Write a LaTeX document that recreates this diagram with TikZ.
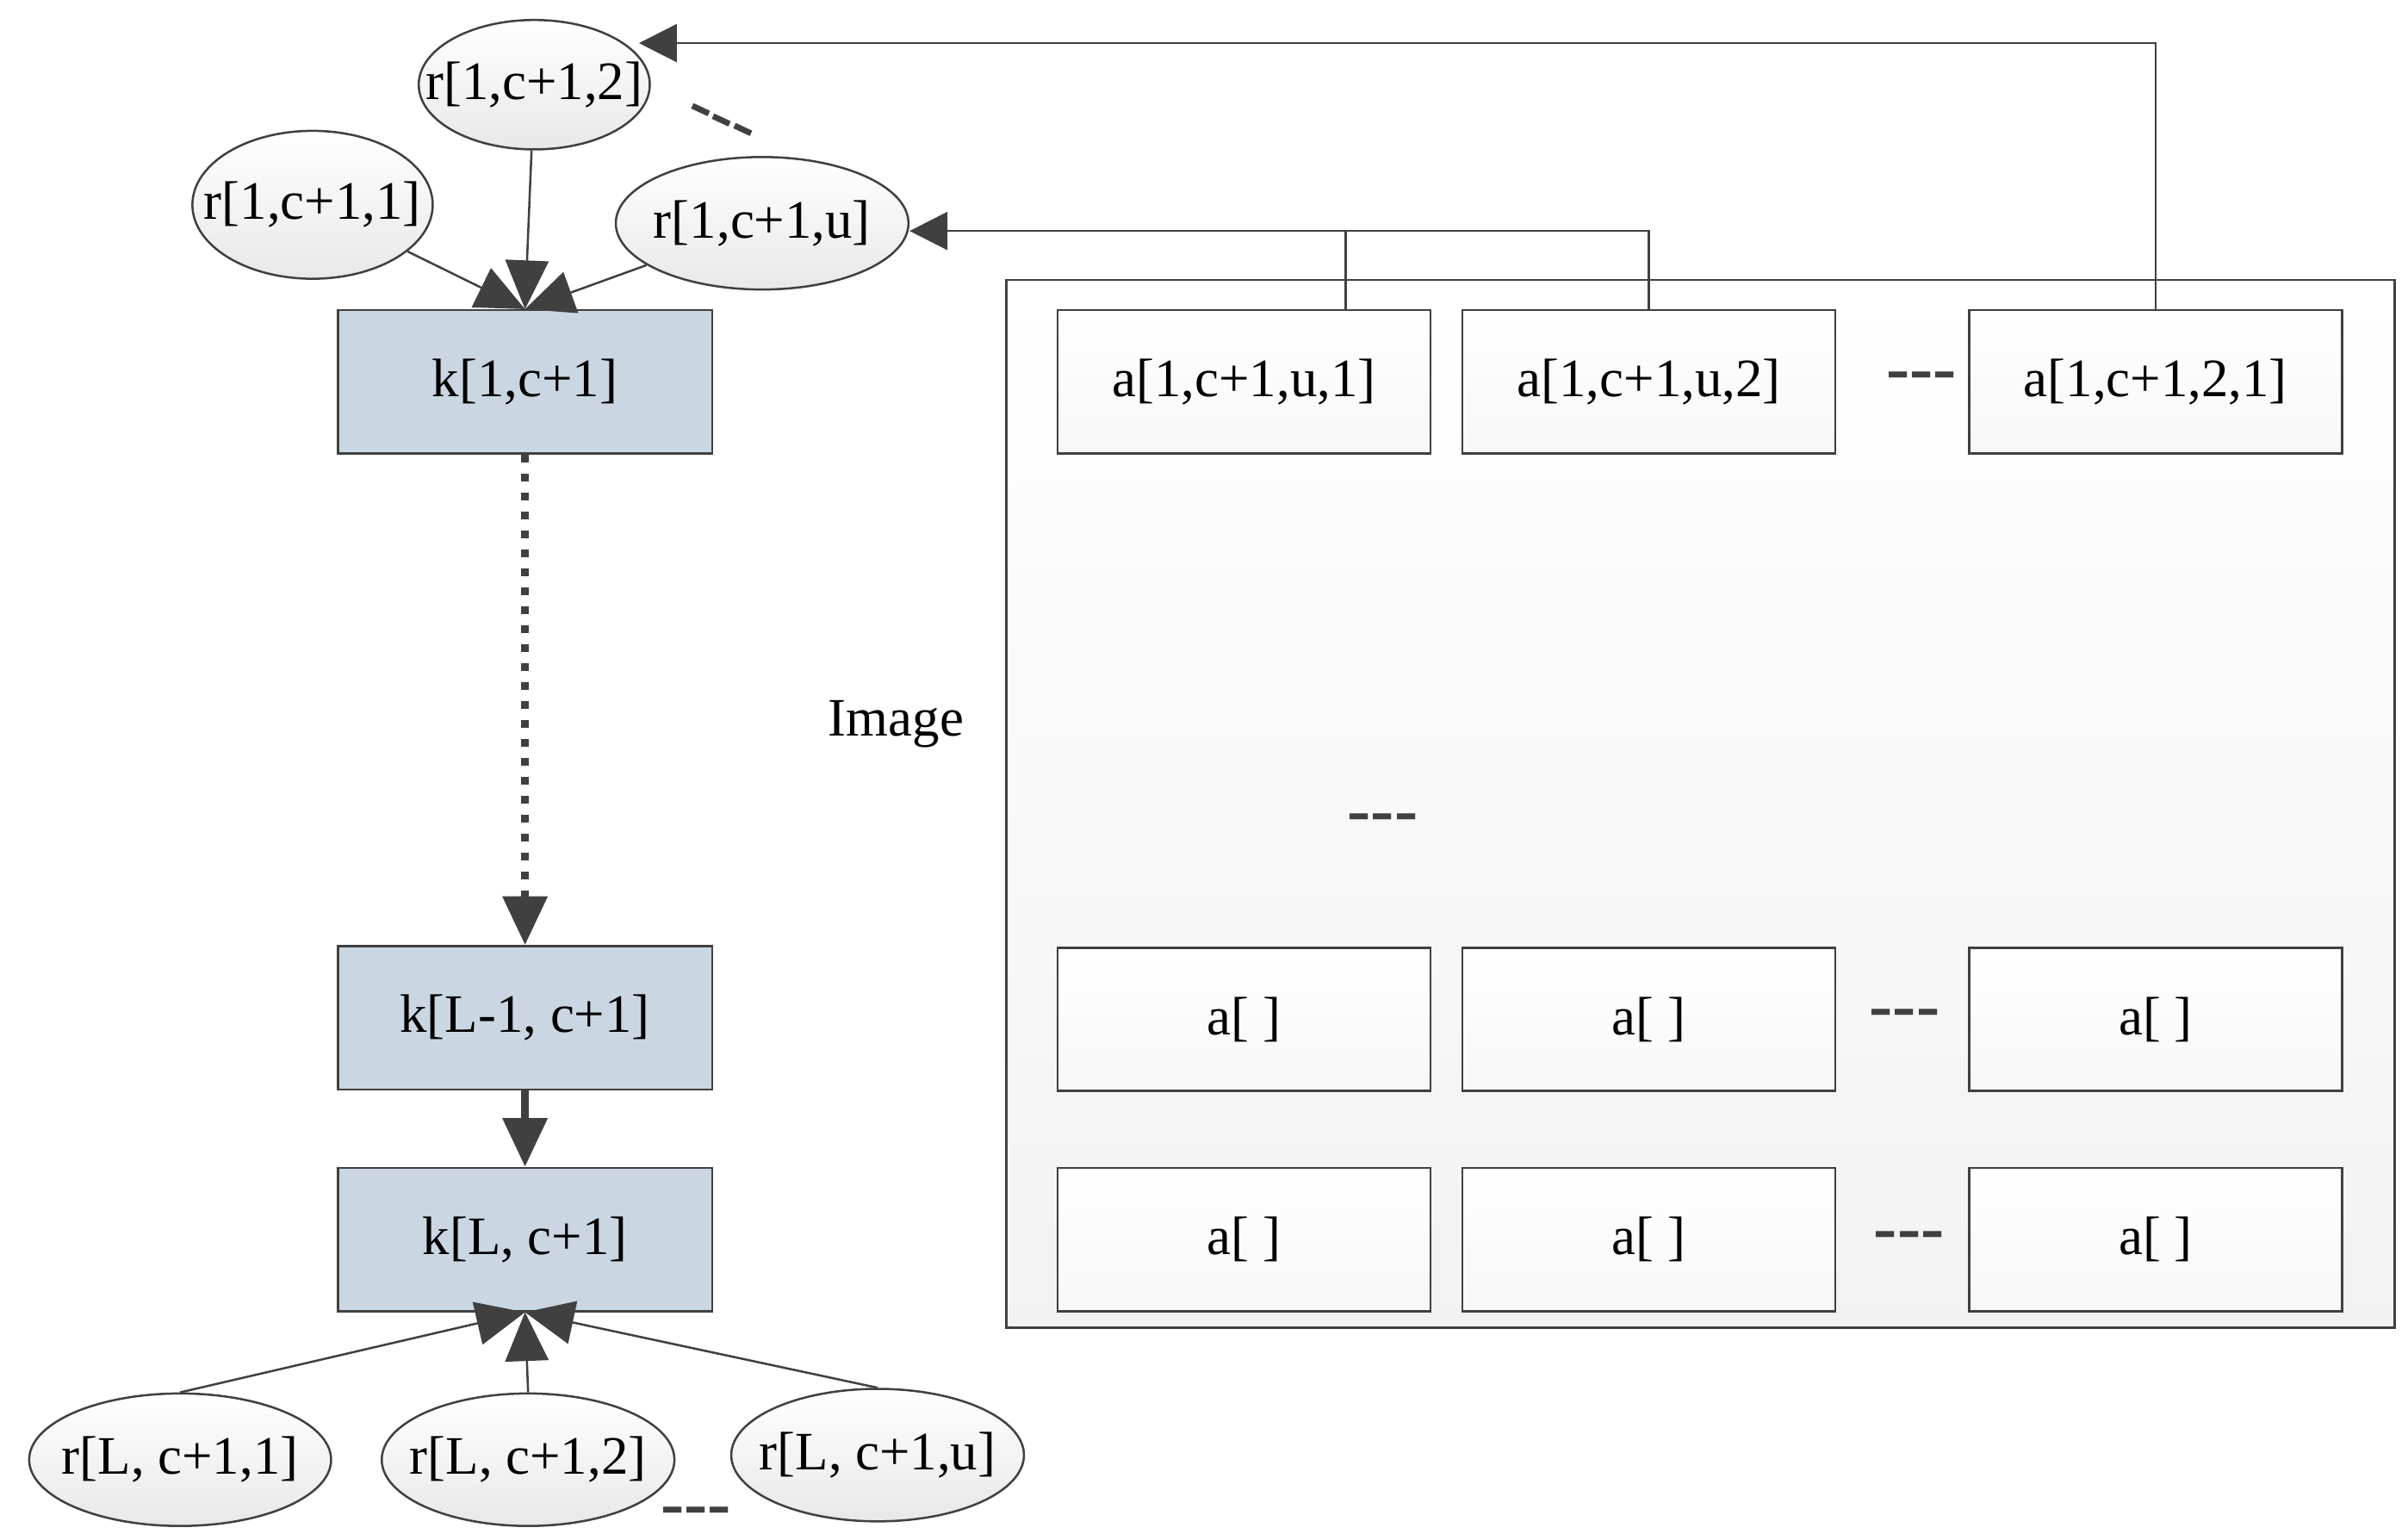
\documentclass[tikz,border=0pt]{standalone}
\usepackage{fontspec}
\setmainfont{Liberation Serif}
\usetikzlibrary{arrows.meta,shapes.geometric,positioning}
\definecolor{kblue}{HTML}{CAD7E3}
\definecolor{edge}{HTML}{404040}
\begin{document}
\begin{tikzpicture}[x=0.01cm,y=-0.01cm,
    font=\fontsize{10}{12}\selectfont,
    kbox/.style={draw=edge,fill=kblue,minimum width=2.43cm,minimum height=0.93cm,inner sep=0pt},
    abox/.style={draw=edge,top color=white,bottom color=gray!6,minimum width=2.42cm,minimum height=0.93cm,inner sep=0pt},
    rell/.style={draw=edge,ellipse,top color=white,bottom color=gray!18,minimum width=1.9cm,minimum height=0.86cm,inner xsep=-6pt,inner ysep=0pt},
    thin arrow/.style={draw=edge,-{Triangle[length=7pt,width=7pt]}},
    big arrow/.style={draw=edge,-{Triangle[length=9pt,width=8pt]}},
    dots/.style={font=\fontsize{13}{13}\selectfont\bfseries,text=edge,inner sep=0pt}]
    \useasboundingbox (0,0) rectangle (1564,1000);
    % Image frame
    \node (img) [draw=edge,top color=white,bottom color=gray!10,minimum width=9.01cm,minimum height=6.8cm,inner sep=0pt] at (1104.5,522) {};
    \node (imglabel) at (582,470) {Image};
    % k nodes
    \node (k1) [kbox] at (341,248) {k[1,c+1]};
    \node (kLm) [kbox] at (341,661) {k[L-1, c+1]};
    \node (kL) [kbox] at (341,805) {k[L, c+1]};
    % top r nodes
    \node (r12) [rell,minimum width=1.5cm,minimum height=0.84cm] at (347,55) {r[1,c+1,2]};
    \node (r11) [rell,minimum width=1.56cm,minimum height=0.96cm] at (203,133) {r[1,c+1,1]};
    \node (r1u) [rell] at (495,145) {r[1,c+1,u]};
    \node (dtop) [dots,rotate=-25] at (467,82) {-{}-{}-};
    % bottom r nodes
    \node (rL1) [rell,minimum width=1.96cm] at (117,948) {r[L, c+1,1]};
    \node (rL2) [rell] at (343,948) {r[L, c+1,2]};
    \node (rLu) [rell] at (570,945) {r[L, c+1,u]};
    \node (dbot) [dots] at (452,985) {-{}-{}-};
    % a boxes
    \foreach \col/\x in {1/808,2/1071,3/1400} {
        \foreach \row/\y in {2/662,3/805}
            \node (a\row\col) [abox] at (\x,\y) {a[ ]};
    }
    \node (a11) [abox] at (808,248) {a[1,c+1,u,1]};
    \node (a12) [abox] at (1071,248) {a[1,c+1,u,2]};
    \node (a13) [abox] at (1400,248) {a[1,c+1,2,1]};
    \node (da1) [dots] at (1248,248) {-{}-{}-};
    \node (dmid) [dots] at (898,535) {-{}-{}-};
    \node (da2) [dots] at (1237,662) {-{}-{}-};
    \node (da3) [dots] at (1240,806) {-{}-{}-};
    % connectors from image to r nodes
    \coordinate (j1) at (874,150);
    \draw [draw=edge] (a11.north -| j1) -- (j1);
    \draw [draw=edge] (a12.north) |- (j1);
    \draw [thin arrow] (j1) -- (r1u.east |- j1);
    \coordinate (j2) at (1400,28);
    \draw [thin arrow] (a13.north) -- (j2) -- (415,28);
    % arrows into k nodes
    \draw [big arrow] (r11) -- (k1.north);
    \draw [big arrow] (r12) -- (k1.north);
    \draw [big arrow] (r1u) -- (k1.north);
    \draw [big arrow,line width=1.5pt,dotted] (k1) -- (kLm);
    \draw [big arrow,line width=1.5pt] (kLm) -- (kL);
    \draw [big arrow] (rL1.north) -- (kL.south);
    \draw [big arrow] (rL2.north) -- (kL.south);
    \draw [big arrow] (rLu.north) -- (kL.south);
\end{tikzpicture}
\end{document}
